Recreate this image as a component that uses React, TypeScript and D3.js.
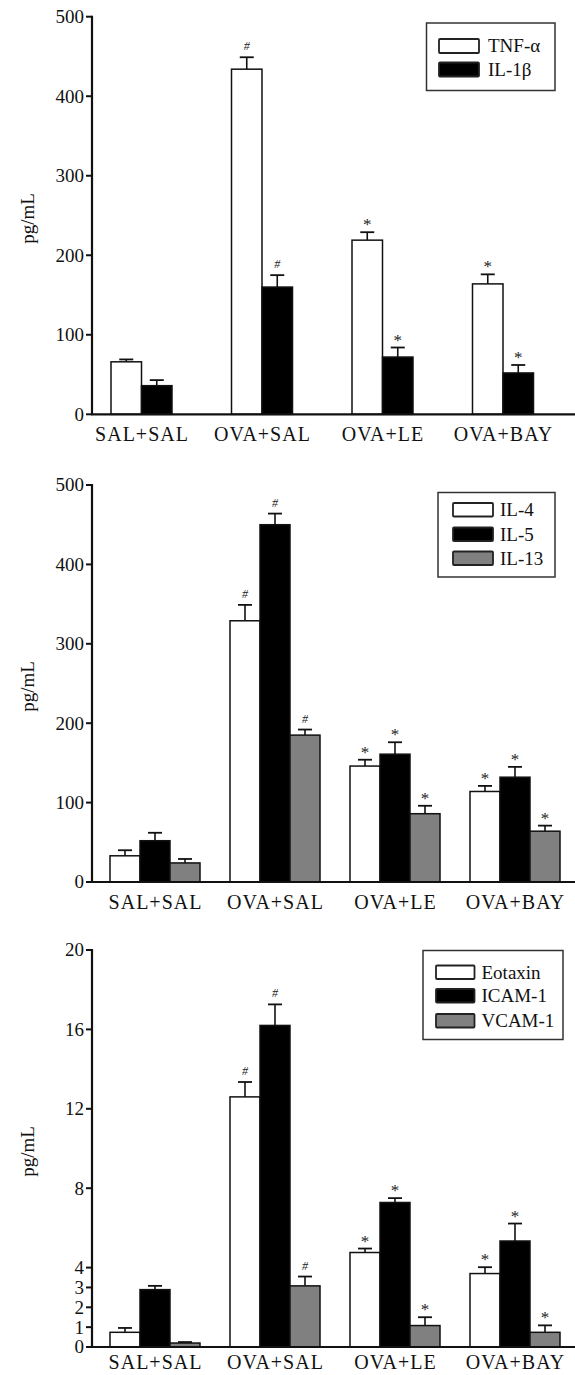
import * as d3 from 'd3';

const groups = ['SAL+SAL', 'OVA+SAL', 'OVA+LE', 'OVA+BAY'];

// panel A
const tnfMean = [66, 434, 219, 164];
const tnfErr = [3, 15, 10, 12];
const il1bMean = [36, 160, 72, 52];
const il1bErr = [7, 15, 12, 10];
const cytoTicks = [0, 100, 200, 300, 400, 500];

// panel B
const il4Mean = [33, 329, 146, 114];
const il4Err = [7, 20, 8, 7];
const il5Mean = [52, 450, 161, 132];
const il5Err = [10, 14, 15, 13];
const il13Mean = [24, 185, 86, 64];
const il13Err = [5, 7, 10, 7];

// panel C
const eotaxinMean = [0.74, 12.6, 4.76, 3.7];
const eotaxinErr = [0.22, 0.75, 0.2, 0.32];
const icamMean = [2.89, 16.2, 7.28, 5.34];
const icamErr = [0.19, 1.06, 0.22, 0.88];
const vcamMean = [0.2, 3.08, 1.08, 0.74];
const vcamErr = [0.05, 0.47, 0.42, 0.35];
const adhesionTicks = [0, 1, 2, 3, 4, 8, 12, 16, 20];

// significance marks per group (same for every series)
const marks = ['', '#', '*', '*'];

const FONT = '"Liberation Serif", "Times New Roman", serif';
const GREY = '#808080';

interface Series {
  name: string;
  fill: string;
  mean: number[];
  err: number[];
}

interface PanelProps {
  yTop: number;
  yBottom: number;
  yMax: number;
  ticks: number[];
  bandStart: number;
  step: number;
  barW: number;
  labelGap: number;
  series: Series[];
  legend: { x: number; y: number; w: number; h: number; swX: number; swW: number; swH: number; textX: number; rows: number[] };
}

const AXIS_X = 92;

function Panel({ yTop, yBottom, yMax, ticks, bandStart, step, barW, labelGap, series, legend }: PanelProps) {
  const y = d3.scaleLinear().domain([0, yMax]).range([yBottom, yTop]);
  const x = d3
    .scaleBand<string>()
    .domain(groups)
    .range([bandStart, bandStart + step * groups.length])
    .padding(0);
  const n = series.length;

  return (
    <g>
      {/* bars + error bars */}
      {groups.map((g, gi) => {
        const cx = (x(g) ?? 0) + x.bandwidth() / 2;
        return (
          <g key={g}>
            {series.map((s, si) => {
              const x0 = cx - (n * barW) / 2 + si * barW;
              const mid = x0 + barW / 2;
              const top = y(s.mean[gi]);
              const capY = y(s.mean[gi] + s.err[gi]);
              const mk = marks[gi];
              return (
                <g key={s.name}>
                  <line x1={mid} x2={mid} y1={top} y2={capY} stroke="#111" strokeWidth={1.6} />
                  <line x1={mid - 7} x2={mid + 7} y1={capY} y2={capY} stroke="#111" strokeWidth={1.8} />
                  <rect
                    x={x0}
                    y={top}
                    width={barW}
                    height={yBottom - top}
                    fill={s.fill}
                    stroke="#111"
                    strokeWidth={1.5}
                  />
                  {mk && (
                    <text
                      x={mid}
                      y={mk === '#' ? capY - 7 : capY - 2}
                      textAnchor="middle"
                      fontFamily={FONT}
                      fontSize={mk === '#' ? 12 : 17}
                      fontStyle={mk === '#' ? 'italic' : 'normal'}
                      fill="#222"
                    >
                      {mk}
                    </text>
                  )}
                </g>
              );
            })}
          </g>
        );
      })}

      {/* y axis */}
      <line x1={AXIS_X} x2={AXIS_X} y1={yTop - 1} y2={yBottom} stroke="#111" strokeWidth={2.2} />
      {ticks.map((t) => (
        <g key={t}>
          <line x1={AXIS_X - 6} x2={AXIS_X} y1={y(t)} y2={y(t)} stroke="#111" strokeWidth={2} />
          <text
            x={AXIS_X - 8}
            y={y(t)}
            dy="0.34em"
            textAnchor="end"
            fontFamily={FONT}
            fontSize={19}
            fill="#111"
          >
            {t}
          </text>
        </g>
      ))}
      <text
        transform={`translate(34, ${(yTop + yBottom) / 2 + 3}) rotate(-90)`}
        textAnchor="middle"
        fontFamily={FONT}
        fontSize={19}
        fill="#111"
      >
        pg/mL
      </text>

      {/* x axis */}
      <line x1={AXIS_X - 1} x2={575} y1={yBottom} y2={yBottom} stroke="#111" strokeWidth={2.2} />
      {groups.map((g) => (
        <text
          key={`lbl-${g}`}
          x={(x(g) ?? 0) + x.bandwidth() / 2 + 0.5}
          y={yBottom + labelGap}
          textAnchor="middle"
          fontFamily={FONT}
          fontSize={20}
          letterSpacing={1}
          fill="#111"
        >
          {g}
        </text>
      ))}

      {/* legend */}
      <rect
        x={legend.x}
        y={legend.y}
        width={legend.w}
        height={legend.h}
        fill="#fff"
        stroke="#333"
        strokeWidth={1.5}
      />
      {series.map((s, i) => (
        <g key={`lg-${s.name}`}>
          <rect
            x={legend.swX}
            y={legend.rows[i]}
            width={legend.swW}
            height={legend.swH}
            fill={s.fill}
            stroke="#222"
            strokeWidth={1.8}
            rx={1}
          />
          <text
            x={legend.textX}
            y={legend.rows[i] + legend.swH / 2}
            dy="0.34em"
            fontFamily={FONT}
            fontSize={19}
            fill="#111"
          >
            {s.name}
          </text>
        </g>
      ))}
    </g>
  );
}

export default function App() {
  const panelA: Series[] = [
    { name: 'TNF-α', fill: '#fff', mean: tnfMean, err: tnfErr },
    { name: 'IL-1β', fill: '#000', mean: il1bMean, err: il1bErr },
  ];
  const panelB: Series[] = [
    { name: 'IL-4', fill: '#fff', mean: il4Mean, err: il4Err },
    { name: 'IL-5', fill: '#000', mean: il5Mean, err: il5Err },
    { name: 'IL-13', fill: GREY, mean: il13Mean, err: il13Err },
  ];
  const panelC: Series[] = [
    { name: 'Eotaxin', fill: '#fff', mean: eotaxinMean, err: eotaxinErr },
    { name: 'ICAM-1', fill: '#000', mean: icamMean, err: icamErr },
    { name: 'VCAM-1', fill: GREY, mean: vcamMean, err: vcamErr },
  ];

  return (
    <div style={{ position: 'absolute', left: 0, top: 0 }}>
      <svg width={575} height={1375} style={{ display: 'block', background: '#fff' }}>
        <Panel
          yTop={16.7}
          yBottom={414.3}
          yMax={500}
          ticks={cytoTicks}
          bandStart={81.25}
          step={120.5}
          barW={30.5}
          labelGap={27}
          series={panelA}
          legend={{ x: 426.5, y: 23, w: 128.5, h: 67.5, swX: 439, swW: 40, swH: 14, textX: 488, rows: [39, 62.5] }}
        />
        <Panel
          yTop={485}
          yBottom={882}
          yMax={500}
          ticks={cytoTicks}
          bandStart={95}
          step={120}
          barW={30}
          labelGap={27}
          series={panelB}
          legend={{ x: 438, y: 492.5, w: 117, h: 84.5, swX: 453, swW: 40, swH: 13.5, textX: 500, rows: [503, 527.5, 551.5] }}
        />
        <Panel
          yTop={950}
          yBottom={1347}
          yMax={20}
          ticks={adhesionTicks}
          bandStart={95}
          step={120}
          barW={30}
          labelGap={22}
          series={panelC}
          legend={{ x: 423, y: 950.5, w: 140, h: 89, swX: 436, swW: 38.5, swH: 13.5, textX: 481.5, rows: [965.5, 989, 1014] }}
        />
      </svg>
    </div>
  );
}
